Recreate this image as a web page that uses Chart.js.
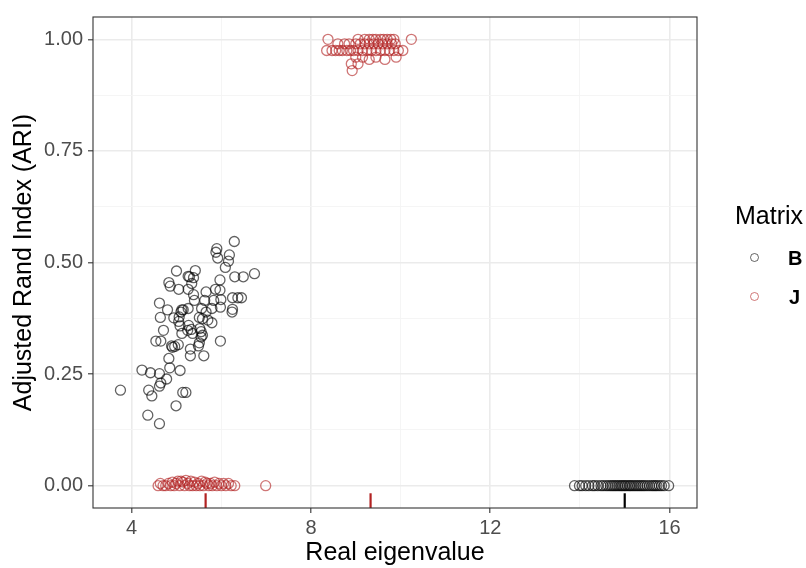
<!DOCTYPE html>
<html>
<head>
<meta charset="utf-8">
<script src="https://cdn.jsdelivr.net/npm/chart.js@4.4.1/dist/chart.umd.min.js"></script>
<style>
  body { margin: 0; background: #fff; }
  #wrap { position: relative; width: 806px; height: 568px; font-family: "Liberation Sans", Arial, sans-serif; }
  .lg { position: absolute; color: #000; white-space: nowrap; }
  .lg-title { left: 735px; top: 200px; font-size: 25px; line-height: 30px; }
  .lg-dot { position: absolute; width: 9px; height: 9px; border-radius: 50%; box-sizing: border-box; border: 1.3px solid; }
  .lg-text { font-size: 20px; font-weight: bold; line-height: 24px; }
</style>
</head>
<body>
<div id="wrap">
  <canvas id="chart" width="806" height="568"></canvas>
  <div class="lg lg-title">Matrix</div>
  <div class="lg-dot" style="left:750px;top:253px;border-color:rgba(0,0,0,0.6)"></div>
  <div class="lg lg-text" style="left:788px;top:246px">B</div>
  <div class="lg-dot" style="left:750px;top:292px;border-color:rgba(178,34,34,0.6)"></div>
  <div class="lg lg-text" style="left:789px;top:285px">J</div>
</div>
<script>
// Matrix B : real eigenvalue / ARI
const bEigen = [6.29, 5.90, 5.88, 6.18, 5.92, 6.16, 6.09, 6.74, 6.49, 6.30, 5.97, 5.00, 5.42, 5.26, 5.29, 5.38,
  4.83, 4.86, 5.05, 5.34, 5.26, 5.38, 5.66, 5.87, 5.97, 5.63, 5.83, 5.99, 6.25, 6.37, 6.45, 4.62, 4.80, 5.12,
  5.15, 5.26, 5.40, 5.56, 5.79, 5.98, 6.25, 6.24, 4.64, 4.94, 5.10, 5.05, 5.51, 5.58, 5.79, 4.71, 5.08, 5.27,
  5.33, 5.52, 5.58, 5.55, 5.98, 4.54, 4.65, 4.89, 4.96, 5.04, 5.31, 5.51, 5.31, 5.61, 4.83, 4.85, 5.08, 4.23,
  4.42, 4.62, 4.78, 4.65, 4.62, 3.75, 4.38, 4.45, 5.14, 5.21, 4.99, 4.36, 4.62, 4.91, 5.12, 5.25, 5.06, 5.36,
  5.66, 5.70, 5.49, 5.55,
  13.88, 13.99, 14.05, 14.13, 14.20, 14.28, 14.33, 14.40, 14.47, 14.52, 14.58, 14.63, 14.68, 14.72, 14.76,
  14.80, 14.84, 14.88, 14.92, 14.95, 14.99, 15.02, 15.06, 15.10, 15.13, 15.17, 15.21, 15.25, 15.29, 15.33,
  15.37, 15.41, 15.45, 15.50, 15.55, 15.60, 15.64, 15.68, 15.72, 15.77, 15.82, 15.88, 15.98];
const bAri = [0.547, 0.531, 0.523, 0.517, 0.510, 0.503, 0.489, 0.475, 0.468, 0.468, 0.461, 0.481, 0.482, 0.469,
  0.468, 0.466, 0.455, 0.447, 0.440, 0.453, 0.440, 0.428, 0.434, 0.440, 0.438, 0.415, 0.415, 0.417, 0.421,
  0.421, 0.421, 0.409, 0.394, 0.394, 0.394, 0.397, 0.415, 0.397, 0.397, 0.400, 0.395, 0.389, 0.377, 0.376,
  0.389, 0.368, 0.377, 0.374, 0.365, 0.348, 0.358, 0.359, 0.350, 0.352, 0.337, 0.333, 0.324, 0.324, 0.324,
  0.313, 0.312, 0.316, 0.306, 0.320, 0.291, 0.291, 0.285, 0.264, 0.258, 0.259, 0.253, 0.251, 0.239, 0.230,
  0.223, 0.214, 0.214, 0.201, 0.209, 0.209, 0.179, 0.158, 0.139, 0.310, 0.341, 0.348, 0.378, 0.341, 0.389,
  0.371, 0.313, 0.345,
  0, 0, 0, 0, 0, 0, 0, 0, 0, 0, 0, 0, 0, 0, 0, 0, 0, 0, 0, 0, 0, 0, 0, 0, 0, 0, 0, 0, 0, 0, 0, 0, 0, 0, 0,
  0, 0, 0, 0, 0, 0, 0, 0];

// Matrix J : real eigenvalue / ARI
const jEigen = [8.38, 9.05, 9.20, 9.30, 9.38, 9.45, 9.55, 9.62, 9.70, 9.78, 9.85, 10.24,
  8.60, 8.75, 8.85, 9.00, 9.10, 9.20, 9.30, 9.40, 9.50, 9.60, 9.70, 9.80, 9.88,
  8.35, 8.47, 8.55, 8.63, 8.70, 8.80, 8.88, 8.95, 9.05, 9.15, 9.25, 9.35, 9.45, 9.55, 9.65, 9.75, 9.85, 9.95, 10.05,
  9.00, 9.15, 9.30, 9.45, 9.65, 9.90, 8.90, 9.05, 8.92,
  4.59, 4.64, 4.70, 4.76, 4.82, 4.87, 4.91, 4.95, 4.99, 5.03, 5.07, 5.10, 5.14, 5.18, 5.21, 5.25, 5.29, 5.32,
  5.36, 5.40, 5.44, 5.48, 5.52, 5.56, 5.60, 5.64, 5.68, 5.72, 5.76, 5.80, 5.85, 5.90, 5.95, 6.00, 6.05, 6.10,
  6.16, 6.22, 6.30, 6.99];
const jAri = [1.00, 1.00, 1.00, 1.00, 1.00, 1.00, 1.00, 1.00, 1.00, 1.00, 1.00, 1.00,
  0.99, 0.99, 0.99, 0.99, 0.99, 0.99, 0.99, 0.99, 0.99, 0.99, 0.99, 0.99, 0.99,
  0.975, 0.975, 0.975, 0.975, 0.975, 0.975, 0.975, 0.975, 0.975, 0.975, 0.975, 0.975, 0.975, 0.975, 0.975,
  0.975, 0.975, 0.975, 0.975,
  0.96, 0.96, 0.955, 0.96, 0.955, 0.96, 0.945, 0.945, 0.93,
  0, 0.005, 0, 0, 0.005, 0, 0.008, 0, 0.005, 0.01, 0, 0.01, 0.008, 0, 0.012, 0.005, 0, 0.01, 0, 0.008, 0,
  0.005, 0, 0.01, 0, 0.008, 0.005, 0, 0.005, 0, 0.008, 0, 0.005, 0, 0.005, 0, 0.005, 0, 0, 0];

// rug marks
const rugEigen = [5.65, 9.33, 15.0];
const rugMatrix = ['J', 'J', 'B'];

const xTicks = [4, 6, 8, 10, 12, 14, 16];
const yTicks = [0, 0.125, 0.25, 0.375, 0.5, 0.625, 0.75, 0.875, 1.0];

const colB = 'rgba(0,0,0,0.62)';
const colJ = 'rgba(178,34,34,0.62)';
const rugCol = { B: '#000000', J: '#b22222' };

const isMajorX = v => v % 4 === 0;
const isMajorY = v => Math.abs(v * 4 - Math.round(v * 4)) < 1e-9;

const panelPlugin = {
    id: 'panel',
    afterDatasetsDraw(chart) {
        const { ctx, chartArea: a, scales } = chart;
        ctx.save();
        // rugs
        const len = (a.bottom - a.top) * 0.03;
        ctx.lineWidth = 2.2;
        rugEigen.forEach((v, i) => {
            const px = scales.x.getPixelForValue(v);
            ctx.strokeStyle = rugCol[rugMatrix[i]];
            ctx.beginPath();
            ctx.moveTo(px, a.bottom);
            ctx.lineTo(px, a.bottom - len);
            ctx.stroke();
        });
        // panel border
        ctx.strokeStyle = '#333333';
        ctx.lineWidth = 1.1;
        ctx.strokeRect(a.left, a.top, a.right - a.left, a.bottom - a.top);
        ctx.restore();
    }
};

const tickFont = { family: '"Liberation Sans", Arial, sans-serif', size: 20 };
const titleFont = { family: '"Liberation Sans", Arial, sans-serif', size: 25 };

new Chart(document.getElementById('chart'), {
    type: 'scatter',
    data: {
        datasets: [
            {
                label: 'B',
                data: bEigen.map((x, i) => ({ x: x, y: bAri[i] })),
                borderColor: colB,
                backgroundColor: 'rgba(0,0,0,0)',
                pointRadius: 5,
                borderWidth: 1.3
            },
            {
                label: 'J',
                data: jEigen.map((x, i) => ({ x: x, y: jAri[i] })),
                borderColor: colJ,
                backgroundColor: 'rgba(0,0,0,0)',
                pointRadius: 5,
                borderWidth: 1.3
            }
        ]
    },
    options: {
        responsive: false,
        animation: false,
        layout: { padding: { left: 0, top: 14, right: 109, bottom: 0 } },
        plugins: { legend: { display: false }, tooltip: { enabled: false } },
        scales: {
            x: {
                type: 'linear',
                min: 3.1375,
                max: 16.6125,
                afterBuildTicks: axis => { axis.ticks = xTicks.map(v => ({ value: v })); },
                afterFit: axis => { axis.height = 60; },
                border: { display: false },
                grid: {
                    color: c => isMajorX(c.tick.value) ? '#ebebeb' : '#f4f4f4',
                    lineWidth: c => isMajorX(c.tick.value) ? 1.6 : 0.9,
                    tickColor: c => isMajorX(c.tick.value) ? '#333333' : 'rgba(0,0,0,0)',
                    tickWidth: 1.1,
                    tickLength: 5
                },
                ticks: {
                    autoSkip: false,
                    maxRotation: 0,
                    padding: 3,
                    color: '#4d4d4d',
                    font: tickFont,
                    callback: v => isMajorX(v) ? String(v) : ''
                },
                title: { display: true, text: 'Real eigenvalue', color: '#000', font: titleFont, padding: { top: 0, bottom: 0 } }
            },
            y: {
                type: 'linear',
                min: -0.05,
                max: 1.05,
                afterBuildTicks: axis => { axis.ticks = yTicks.map(v => ({ value: v })); },
                afterFit: axis => { axis.width = 93; },
                border: { display: false },
                grid: {
                    color: c => isMajorY(c.tick.value) ? '#ebebeb' : '#f4f4f4',
                    lineWidth: c => isMajorY(c.tick.value) ? 1.6 : 0.9,
                    tickColor: c => isMajorY(c.tick.value) ? '#333333' : 'rgba(0,0,0,0)',
                    tickWidth: 1.1,
                    tickLength: 5
                },
                ticks: {
                    autoSkip: false,
                    padding: 5,
                    color: '#4d4d4d',
                    font: tickFont,
                    callback: v => isMajorY(v) ? v.toFixed(2) : ''
                },
                title: { display: true, text: 'Adjusted Rand Index (ARI)', color: '#000', font: titleFont, padding: { top: 9, bottom: 0 } }
            }
        }
    },
    plugins: [panelPlugin]
});
</script>
</body>
</html>
